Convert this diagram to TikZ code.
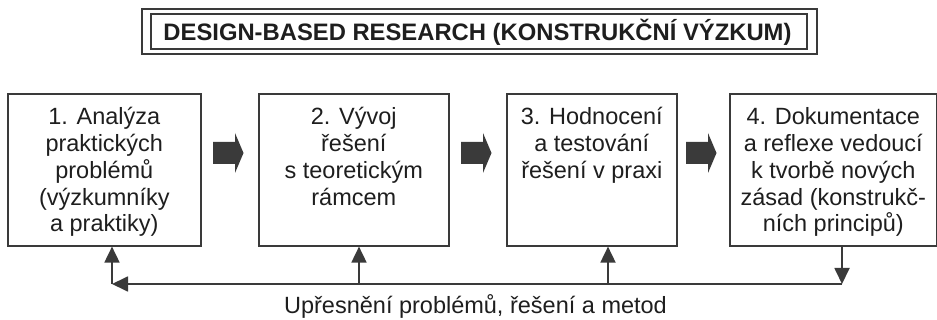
\documentclass[tikz,border=0pt]{standalone}
\usepackage{fontspec}
\setmainfont{Liberation Sans}
\usetikzlibrary{arrows.meta}
\definecolor{ink}{HTML}{3A3A3A}
\definecolor{txt}{HTML}{1E1E1E}
\begin{document}
\begin{tikzpicture}[x=1pt,y=-1pt,
  stage/.style={draw=ink, line width=1.6pt, inner sep=0pt, anchor=north west, minimum height=152pt},
  % the base anchor of a multi-line node sits on its last line,
  % so the shift is given by the number of lines (#1)
  stagetext/.style={anchor=base, align=center, inner sep=0pt, text=txt,
    font=\fontsize{23.5}{26.7}\selectfont, yshift=-32pt-(#1-1)*26.7pt},
  blockarrow/.style={fill=ink, draw=none},
  flow/.style={draw=ink, line width=1.8pt, -{Triangle[length=16pt,width=15pt]}},
  flowline/.style={draw=ink, line width=1.8pt}]
\useasboundingbox (0,0) rectangle (937,320);

% title with double frame
\node[draw=ink, line width=1.8pt, minimum width=656pt, minimum height=35pt, inner sep=0pt] (title) at (479,31.5) {};
\draw[ink, line width=2.4pt] ([shift={(-8,-4)}]title.north west) rectangle ([shift={(9,4)}]title.south east);
\node[anchor=base, inner sep=0pt, text=txt, font=\bfseries\fontsize{23.8}{28}\selectfont] (titletext) at (477.5,41)
  {DESIGN-BASED RESEARCH (KONSTRUKČNÍ VÝZKUM)};

% stage boxes
\node[stage, minimum width=193pt] (b1) at (7,93) {};
\node[stage, minimum width=190pt] (b2) at (258,93) {};
\node[stage, minimum width=170pt] (b3) at (506,93) {};
\node[stage, minimum width=207pt] (b4) at (729,93) {};

\node[stagetext=5] (t1) at (b1.north) {1. Analýza\\praktických\\problémů\\(výzkumníky\\a praktiky)};
\node[stagetext=4] (t2) at (b2.north) {2. Vývoj\\řešení\\s teoretickým\\rámcem};
\node[stagetext=3] (t3) at (b3.north) {3. Hodnocení\\a testování\\řešení v praxi};
\node[stagetext=5] (t4) at (b4.north) {4. Dokumentace\\a reflexe vedoucí\\k tvorbě nových\\zásad (konstrukč-\\ních principů)};

% block arrows between the stages
\foreach \x in {213,461,686}
  \path[blockarrow] (\x,142) -- ++(22,0) -- ++(0,-9) -- ++(8.5,20) -- ++(-8.5,20) -- ++(0,-9) -- ++(-22,0) -- cycle;

% feedback loop
\coordinate (fbR) at (842,284);
\coordinate (fbL) at (112,284);
\coordinate (fb2) at (359,284);
\coordinate (fb3) at (608,284);
\draw[flow] (b4.south -| fbR) -- (fbR);
\draw[flow] (fbR) -- (fbL);
\draw[flow] (fbL) -- (b1.south -| fbL);
\draw[flow] (fb2) -- (b2.south -| fb2);
\draw[flow] (fb3) -- (b3.south -| fb3);

\node[anchor=base, inner sep=0pt, text=txt, font=\fontsize{23.5}{28}\selectfont] (fbtext) at (475.5,313.5)
  {Upřesnění problémů, řešení a metod};
\end{tikzpicture}
\end{document}
